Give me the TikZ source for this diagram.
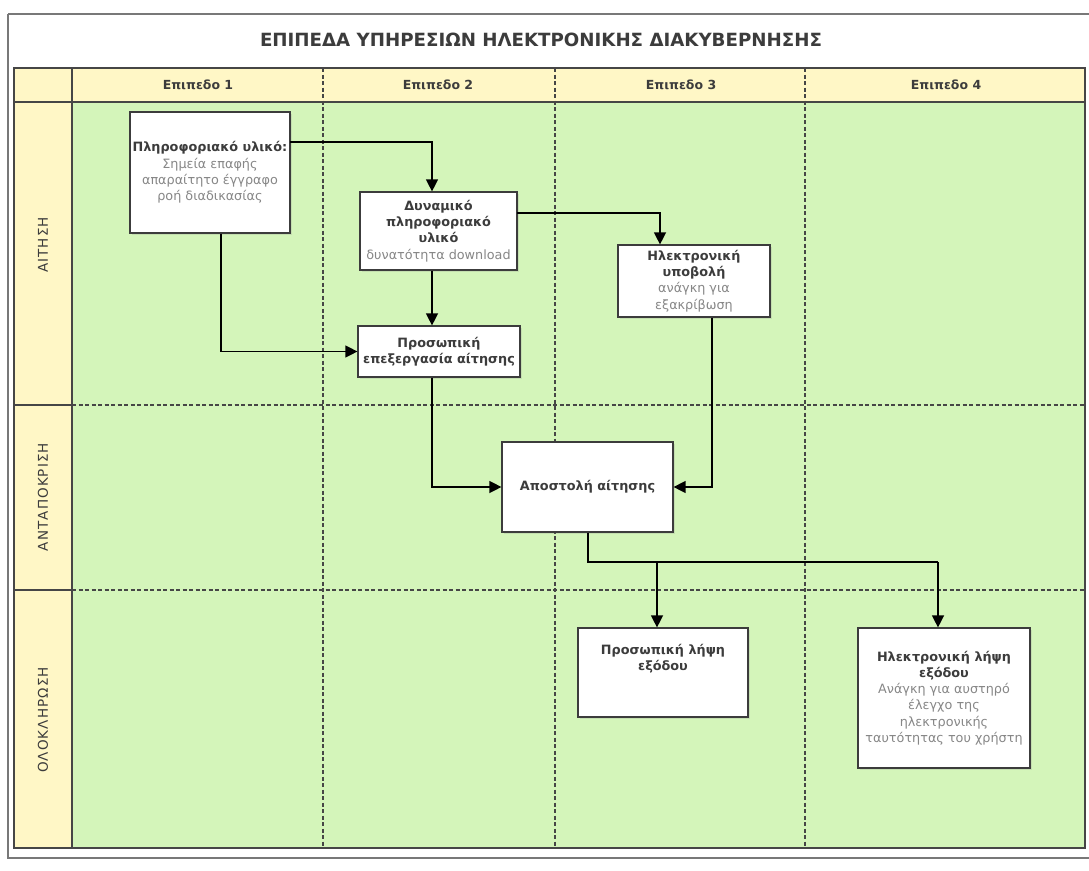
\documentclass[tikz,border=0pt]{standalone}
\usepackage{fontspec}
\setmainfont{DejaVu Sans}
\newfontfamily\lanefont[LetterSpace=8]{DejaVu Sans}
\usetikzlibrary{arrows.meta,shadows}

\definecolor{lanegreen}{RGB}{212,245,186}
\definecolor{headyellow}{RGB}{255,247,198}
\definecolor{gridline}{RGB}{70,70,70}
\definecolor{framegray}{RGB}{120,120,120}
\definecolor{boxline}{RGB}{60,60,60}
\definecolor{maintext}{RGB}{60,60,60}
\definecolor{subtext}{RGB}{135,135,135}

\tikzset{
  procbox/.style={draw=boxline, line width=1.2pt, fill=white, align=center,
    inner sep=1pt, font=\fontsize{12.8}{16.3}\selectfont,
    drop shadow={opacity=0.18, shadow xshift=1.5pt, shadow yshift=-1.5pt}},
  flow/.style={draw=black, line width=1.3pt,
    -{Triangle[length=12pt,width=12pt]}},
  flowline/.style={draw=black, line width=1.3pt},
  lanesep/.style={draw=gridline, line width=1.1pt, dash pattern=on 4pt off 2.5pt},
  headtext/.style={font=\fontsize{12.5}{15}\selectfont\bfseries, text=maintext},
  lanetext/.style={font=\fontsize{13.5}{16}\selectfont\lanefont, text=maintext, rotate=90}
}
\newcommand{\hd}[1]{\textbf{\textcolor{maintext}{#1}}}
\newcommand{\sd}[1]{\textcolor{subtext}{#1}}

\begin{document}
\begin{tikzpicture}[x=1pt,y=-1pt]
\useasboundingbox (0,0) rectangle (1089,870);
\fill[white] (0,0) rectangle (1089,870);

% outer frame
\draw[framegray, line width=1.6pt] (8,14) -- (1095,14);
\draw[framegray, line width=1.6pt] (8,14) -- (8,858) -- (1095,858);

% title
\node[font=\fontsize{18.2}{20}\selectfont\bfseries, text=maintext] (title) at (541,40)
  {ΕΠΙΠΕΔΑ ΥΠΗΡΕΣΙΩΝ ΗΛΕΚΤΡΟΝΙΚΗΣ ΔΙΑΚΥΒΕΡΝΗΣΗΣ};

% table background
\fill[lanegreen] (72,102) rectangle (1085,848);
\fill[headyellow] (14,68) rectangle (1085,102);
\fill[headyellow] (14,102) rectangle (72,848);
\draw[gridline, line width=1.1pt] (14,68) rectangle (1085,848);
\draw[gridline, line width=1.1pt] (14,102) -- (1085,102);
\draw[gridline, line width=1.1pt] (72,68) -- (72,848);
\draw[gridline, line width=1.1pt] (14,405) -- (72,405);
\draw[gridline, line width=1.1pt] (14,590) -- (72,590);

% column and lane separators
\draw[lanesep] (323,68) -- (323,848);
\draw[lanesep] (555,68) -- (555,848);
\draw[lanesep] (805,68) -- (805,848);
\draw[lanesep] (72,405) -- (1085,405);
\draw[lanesep] (72,590) -- (1085,590);

% column headings
\node[headtext] (h1) at (198,85) {Επιπεδο 1};
\node[headtext] (h2) at (438,85) {Επιπεδο 2};
\node[headtext] (h3) at (681,85) {Επιπεδο 3};
\node[headtext] (h4) at (946,85) {Επιπεδο 4};

% lane headings
\node[lanetext] (l1) at (43,245) {ΑΙΤΗΣΗ};
\node[lanetext] (l2) at (43,497) {ΑΝΤΑΠΟΚΡΙΣΗ};
\node[lanetext] (l3) at (43,720) {ΟΛΟΚΛΗΡΩΣΗ};

% process boxes
\node[procbox, minimum width=160pt, minimum height=121pt] (b1) at (210,172.5)
  {\hd{Πληροφοριακό υλικό:}\\ \sd{Σημεία επαφής}\\ \sd{απαραίτητο έγγραφο}\\ \sd{ροή διαδικασίας}};
\node[procbox, minimum width=157pt, minimum height=78pt] (b2) at (438.5,231)
  {\hd{Δυναμικό}\\ \hd{πληροφοριακό}\\ \hd{υλικό}\\ \sd{δυνατότητα download}};
\node[procbox, minimum width=162pt, minimum height=51pt] (b3) at (439,351.5)
  {\hd{Προσωπική}\\ \hd{επεξεργασία αίτησης}};
\node[procbox, minimum width=152pt, minimum height=72pt] (b4) at (694,281)
  {\hd{Ηλεκτρονική}\\ \hd{υποβολή}\\ \sd{ανάγκη για}\\ \sd{εξακρίβωση}};
\node[procbox, minimum width=171pt, minimum height=90pt] (b5) at (587.5,487)
  {\hd{Αποστολή αίτησης}};
\node[procbox, minimum width=170pt, minimum height=89pt] (b6) at (663,672.5)
  {\hd{Προσωπική λήψη}\\ \hd{εξόδου}\\[14pt]};
\node[procbox, minimum width=172pt, minimum height=140pt] (b7) at (944,698)
  {\hd{Ηλεκτρονική λήψη}\\ \hd{εξόδου}\\ \sd{Ανάγκη για αυστηρό}\\ \sd{έλεγχο της}\\ \sd{ηλεκτρονικής}\\ \sd{ταυτότητας του χρήστη}};

% routing columns for the connectors
\coordinate (xa) at (432,0);
\coordinate (xb) at (221,0);
\coordinate (xd) at (660,0);
\coordinate (xf) at (712,0);
\coordinate (xg) at (588,0);
\coordinate (split1) at (657,562);
\coordinate (split2) at (938,562);
\coordinate (b1out) at (290,142);
\coordinate (b2out) at (517,213);

% connectors
\draw[flow] (b1out) -| (b2.north -| xa);
\draw[flow] (b1.south -| xb) |- (b3.west);
\draw[flow] (b2.south -| xa) -- (b3.north -| xa);
\draw[flow] (b2out) -| (b4.north -| xd);
\draw[flow] (b3.south -| xa) |- (b5.west);
\draw[flow] (b4.south -| xf) |- (b5.east);
\draw[flowline] (b5.south -| xg) |- (split2);
\draw[flow] (split1) -- (b6.north -| split1);
\draw[flow] (split2) -- (b7.north -| split2);
\end{tikzpicture}
\end{document}
